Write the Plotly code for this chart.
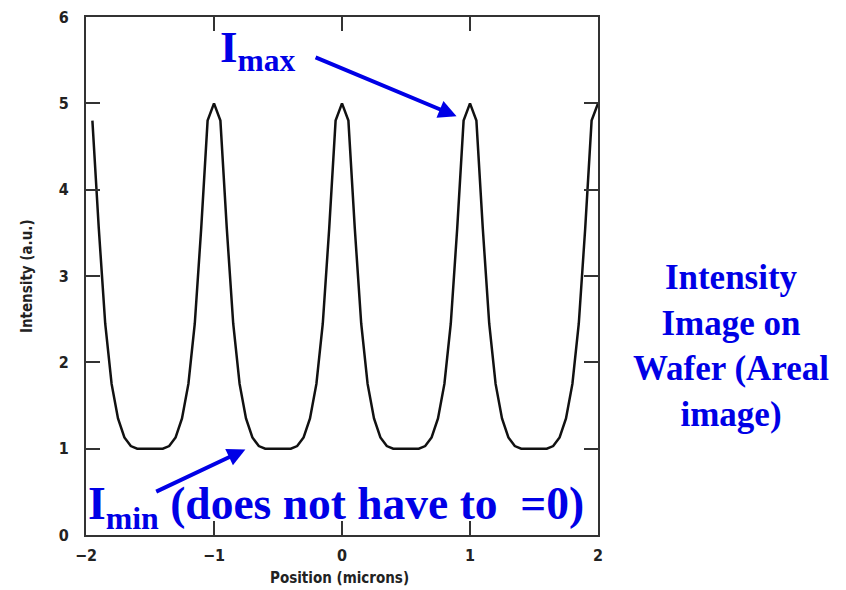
import numpy as np
import plotly.graph_objects as go

# Position grid (microns) and intensity values
position = [round(v, 2) for v in np.arange(-1.95, 2.0001, 0.05)]
intensity = [
    4.8, 3.55, 2.45, 1.75, 1.35, 1.13, 1.03, 1.0, 1.0, 1.0,
    1.0, 1.0, 1.03, 1.13, 1.35, 1.75, 2.45, 3.55, 4.8, 5.0,
    4.8, 3.55, 2.45, 1.75, 1.35, 1.13, 1.03, 1.0, 1.0, 1.0,
    1.0, 1.0, 1.03, 1.13, 1.35, 1.75, 2.45, 3.55, 4.8, 5.0,
    4.8, 3.55, 2.45, 1.75, 1.35, 1.13, 1.03, 1.0, 1.0, 1.0,
    1.0, 1.0, 1.03, 1.13, 1.35, 1.75, 2.45, 3.55, 4.8, 5.0,
    4.8, 3.55, 2.45, 1.75, 1.35, 1.13, 1.03, 1.0, 1.0, 1.0,
    1.0, 1.0, 1.03, 1.13, 1.35, 1.75, 2.45, 3.55, 4.8, 5.0,
]
x_ticks = [-2, -1, 0, 1, 2]
y_ticks = [0, 1, 2, 3, 4, 5, 6]

BLUE = "#0000e6"
AXIS_FONT = "DejaVu Sans Condensed, Liberation Sans Narrow, Arial Narrow, sans-serif"
SERIF = "Liberation Serif, Times New Roman, serif"

fig = go.Figure()
fig.add_trace(go.Scatter(
    x=position, y=intensity, mode="lines",
    line=dict(color="#111111", width=2.5),
    showlegend=False, hoverinfo="skip",
))

axis_common = dict(
    showgrid=False, zeroline=False, automargin=False,
    showline=True, linecolor="#333333", linewidth=2, mirror="ticks",
    ticks="inside", ticklen=14, tickwidth=1.5, tickcolor="#333333",
    ticklabeloverflow="allow",
    tickfont=dict(family=AXIS_FONT, size=16, color="#222222", weight="bold"),
)

fig.update_xaxes(range=[-2, 2], tickvals=x_ticks, ticklabelstandoff=5, **axis_common)
fig.update_yaxes(range=[0, 6], tickvals=y_ticks, ticklabelstandoff=12, **axis_common)

annotations = [
    # axis titles
    dict(text="Position (microns)", x=0.495, y=-0.083, xref="paper", yref="paper",
         showarrow=False, xanchor="center", yanchor="middle",
         font=dict(family=AXIS_FONT, size=15, color="#222222", weight="bold")),
    dict(text="Intensity (a.u.)", x=-0.115, y=0.5, xref="paper", yref="paper",
         showarrow=False, textangle=-90, xanchor="center", yanchor="middle",
         font=dict(family=AXIS_FONT, size=15, color="#222222", weight="bold")),
    # Imax label and arrow
    dict(text="I<sub>max</sub>", x=-0.66, y=5.62, xref="x", yref="y",
         showarrow=False, xanchor="center", yanchor="middle",
         font=dict(family=SERIF, size=45, color=BLUE, weight="bold")),
    dict(text="", x=0.895, y=4.85, ax=-0.218, ay=5.54, xref="x", yref="y",
         axref="x", ayref="y", showarrow=True, arrowhead=2, arrowsize=0.9,
         arrowwidth=4, arrowcolor=BLUE),
    # Imin label and arrow
    dict(text="I<sub>min</sub> (does not have to  =0)", x=-2.0, y=0.33,
         xref="x", yref="y", showarrow=False, xanchor="left", yanchor="middle",
         font=dict(family=SERIF, size=45.5, color=BLUE, weight="bold")),
    dict(text="", x=-0.755, y=0.99, ax=-1.463, ay=0.494, xref="x", yref="y",
         axref="x", ayref="y", showarrow=True, arrowhead=2, arrowsize=0.9,
         arrowwidth=4, arrowcolor=BLUE),
    # right side caption
    dict(text="Intensity<br>Image on<br>Wafer (Areal<br>image)", x=1.259, y=0.365,
         xref="paper", yref="paper", showarrow=False, xanchor="center",
         yanchor="middle", align="center",
         font=dict(family=SERIF, size=35, color=BLUE, weight="bold")),
]

# the page adds an 8px body margin, so margins are reduced by 8 at left/top
fig.update_layout(
    width=846, height=590,
    margin=dict(l=78, r=256, t=9, b=63, autoexpand=False),
    paper_bgcolor="white", plot_bgcolor="white",
    annotations=annotations,
)

fig.write_html("out.html")
